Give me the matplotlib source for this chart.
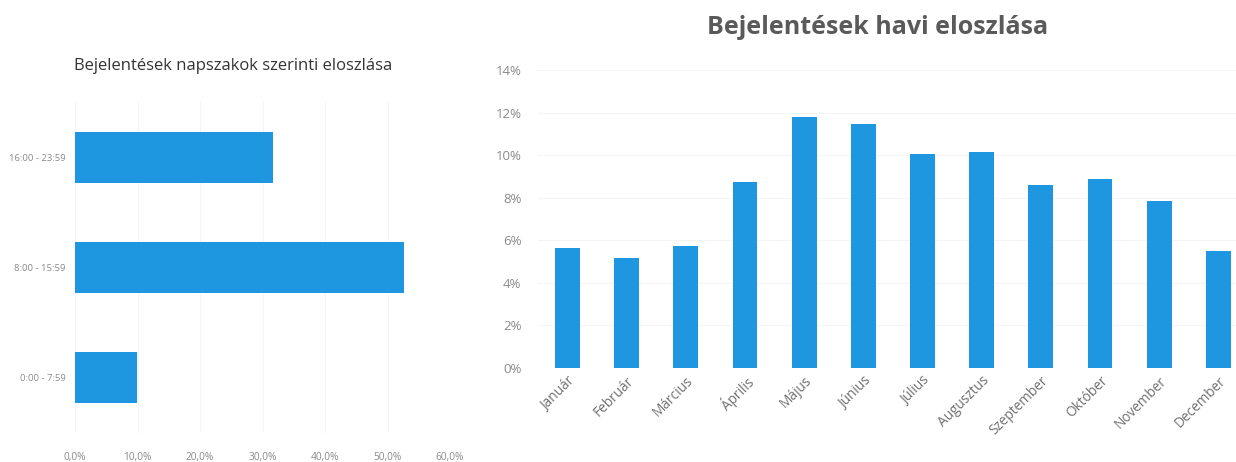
import matplotlib.pyplot as plt
import numpy as np

# ── 数据：napszakok + havi eloszlás ─────────────────────────
napszak_labels = ["0:00 - 7:59", "8:00 - 15:59", "16:00 - 23:59"]
napszak_values = [9.9, 52.7, 31.6]
napszak_ticks = [0, 10, 20, 30, 40, 50, 60]

honap_labels = ["Január", "Február", "Március", "Április", "Május", "Június",
                "Július", "Augusztus", "Szeptember", "Október", "November", "December"]
honap_values = [5.63, 5.16, 5.73, 8.73, 11.8, 11.45, 10.05, 10.15, 8.6, 8.9, 7.84, 5.5]
honap_ticks = [0, 2, 4, 6, 8, 10, 12, 14]

BAR = '#1f97e0'
LBL = '#8a8a8a'
TITLE = '#5a5a5a'
plt.rcParams['font.family'] = ['Open Sans', 'DejaVu Sans']

fig = plt.figure(figsize=(12.36, 4.62), dpi=100)

# ── 左图：napszakok (horizontal bar) ───────────────────────
ax1 = fig.add_axes([0.0607, 0.0628, 0.3034, 0.716])
y = np.arange(len(napszak_labels))
ax1.barh(y, napszak_values, height=0.46, color=BAR, zorder=2)
ax1.set_xlim(0, 60)
ax1.set_ylim(-0.5, 2.5)
ax1.set_yticks(y)
ax1.set_yticklabels(napszak_labels, fontsize=6.8, color=LBL)
ax1.set_xticks(napszak_ticks)
ax1.set_xticklabels([f"{v:.1f}%".replace('.', ',') for v in napszak_ticks],
                    fontsize=7.3, color=LBL)
ax1.tick_params(length=0, pad=7)
ax1.tick_params(axis='x', pad=14)
ax1.grid(axis='x', color='#f5f5f5', linewidth=0.8, zorder=0)
for s in ax1.spines.values():
    s.set_visible(False)
fig.text(0.189, 0.858, "Bejelentések napszakok szerinti eloszlása", ha='center', va='center',
         fontsize=12, color='#333333')

# ── 右图：havi eloszlás (vertical bar) ─────────────────────
ax2 = fig.add_axes([0.4353, 0.2035, 0.5647, 0.645])
x = np.arange(len(honap_labels))
ax2.bar(x, honap_values, width=0.42, color=BAR, zorder=2)
ax2.set_xlim(-0.5, 11.3)
ax2.set_ylim(0, 14)
ax2.set_yticks(honap_ticks)
ax2.set_yticklabels([f"{v}%" for v in honap_ticks], fontsize=9.5, color=LBL)
ax2.set_xticks(x)
ax2.set_xticklabels(honap_labels, fontsize=9.8, color='#707070', rotation=45,
                    ha='right', rotation_mode='anchor')
ax2.tick_params(length=0)
ax2.tick_params(axis='y', pad=12)
ax2.tick_params(axis='x', pad=4)
ax2.grid(axis='y', color='#f5f5f5', linewidth=0.8, zorder=0)
for s in ax2.spines.values():
    s.set_visible(False)
fig.text(0.71, 0.94, "Bejelentések havi eloszlása", ha='center', va='center',
         fontsize=18, fontweight='bold', color=TITLE)

fig.savefig("out.png", dpi=100)
